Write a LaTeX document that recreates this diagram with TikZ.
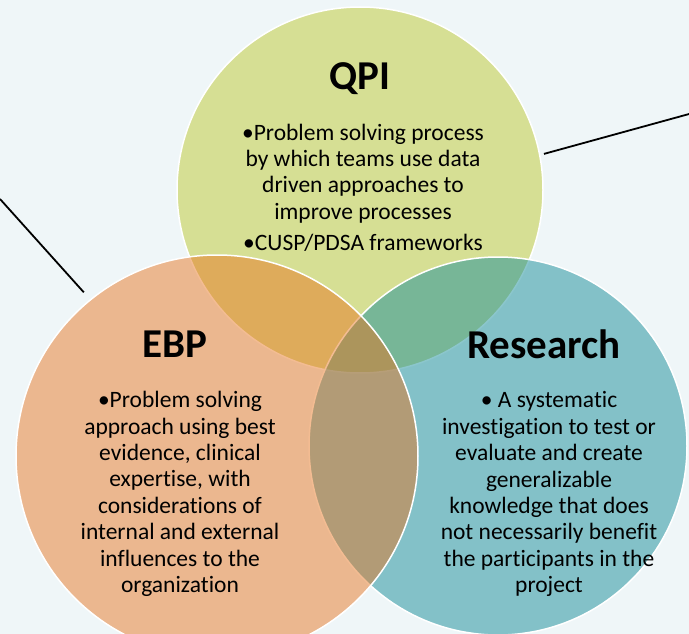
\documentclass[tikz,border=0pt]{standalone}
\usepackage{fontspec}
\setmainfont{Carlito}[Ligatures=NoCommon]
\usetikzlibrary{positioning}
\definecolor{bgcol}{HTML}{EFF6F8}
\definecolor{qpicol}{HTML}{D6DF94}
\definecolor{ebpcol}{RGB}{231,115,29}
\definecolor{rescol}{RGB}{25,142,154}

\begin{document}
\begin{tikzpicture}[x=1pt,y=-1pt,
    venn/.style={circle,draw=white,line width=1.5pt,inner sep=0pt,outer sep=0pt},
    title/.style={anchor=base,inner sep=0pt,font=\fontsize{41}{48}\selectfont\bfseries},
    body/.style={align=center,inner sep=0pt,font=\fontsize{23.5}{26.4}\selectfont},
    link/.style={line width=1.8pt}]
		\clip (0,0) rectangle (689,634);
		\fill[bgcol] (0,0) rectangle (689,634);
		
		% the three sets
		\node[venn,fill=qpicol,minimum size=366pt] (qpi) at (360,190) {};
		\node[venn,fill=rescol,fill opacity=.5,minimum size=378pt] (res) at (498,446) {};
		\node[venn,fill=ebpcol,fill opacity=.48,minimum size=402pt] (ebp) at (217,456) {};
		
		\node[title] (qpititle) at (360,90) {QPI};
		\node[title] (ebptitle) at (174.5,357) {EBP};
		\node[title] (restitle) at (544,358) {Research};
		
		\node[body] (qpitext) at (363,187.5) {•Problem solving process\\ by which teams use data\\ driven approaches to\\ improve processes\\[4.5pt] •CUSP/PDSA frameworks};
		\node[body] (ebptext) at (180,494) {•Problem solving\\ approach using best\\ evidence, clinical\\ expertise, with\\ considerations of\\ internal and external\\ influences to the\\ organization};
		\node[body] (restext) at (549,494.3) {• A systematic\\ investigation to test or\\ evaluate and create\\ generalizable\\ knowledge that does\\ not necessarily benefit\\ the participants in the\\ project};
		
		% lines leaving the picture
		\coordinate (lend) at (0,199);
		\coordinate (rend) at (700,111);
		\draw[link,shorten >=10pt] (lend) -- (ebp.129);
		\draw[link,shorten <=4.5pt] (qpi.11) -- (rend);
\end{tikzpicture}
\end{document}
